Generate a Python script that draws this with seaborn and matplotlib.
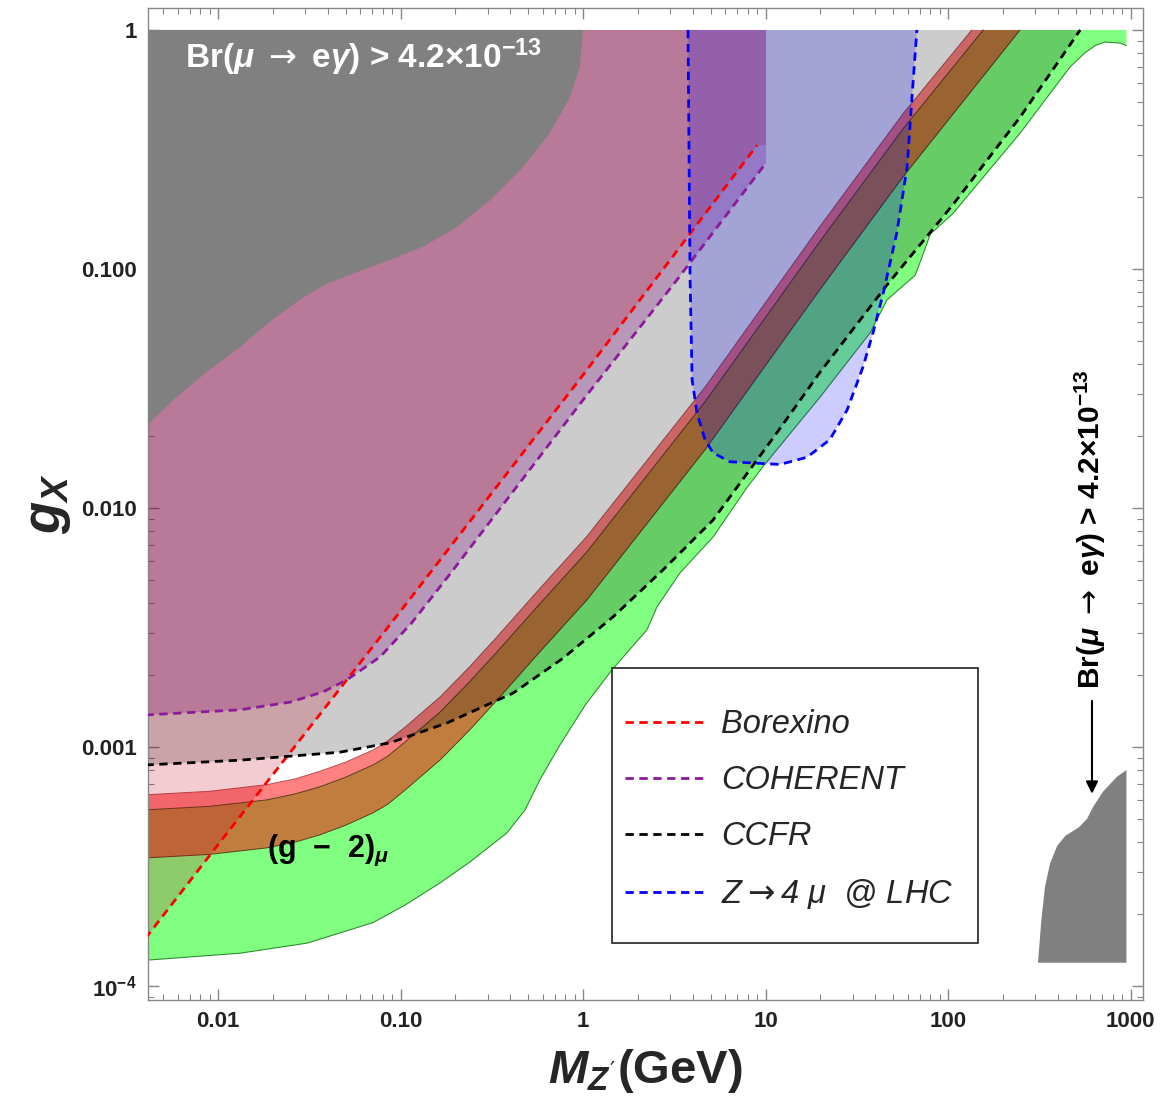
import numpy as np
import seaborn as sns
import matplotlib.pyplot as plt
import matplotlib.ticker as mticker
from matplotlib.patches import Rectangle

# ---- data (M_Z' in GeV, g_X) ----
# light green band, lower (wiggly) edge
green_lo_x = [0.004, 0.0132, 0.0308, 0.0707, 0.106, 0.165, 0.240, 0.383, 0.481, 0.581, 0.748,
              1.03, 1.44, 2.24, 2.54, 3.40, 5.16, 7.93, 9.69, 19.9, 37.4, 46.3, 66.0, 72.0, 80.0,
              106, 249, 466, 560, 640, 720, 877, 950]
green_lo_y = [1.28e-4, 1.37e-4, 1.51e-4, 1.84e-4, 2.18e-4, 2.70e-4, 3.30e-4, 4.37e-4, 5.45e-4,
              7.3e-4, 1.02e-3, 1.50e-3, 2.10e-3, 3.09e-3, 3.85e-3, 5.35e-3, 7.56e-3, 0.0122,
              0.0149, 0.0291, 0.054, 0.0742, 0.094, 0.112, 0.140, 0.170, 0.371, 0.700, 0.80,
              0.86, 0.89, 0.882, 0.86]
# (g-2) bands: green/brown edge, brown/red edge, red/top edge
band_x = [0.004, 0.009, 0.0185, 0.0265, 0.036, 0.05, 0.0707, 0.085, 0.106, 0.165, 0.24, 0.338,
          0.58, 1.05, 4.66, 19.8, 56.7]
brown_lo_y = [3.43e-4, 3.55e-4, 3.78e-4, 4.0e-4, 4.28e-4, 4.7e-4, 5.30e-4, 5.75e-4, 6.6e-4,
              8.83e-4, 1.18e-3, 1.57e-3, 2.50e-3, 4.12e-3, 0.0175, 0.0817, 0.243]
brown_hi_y = [5.45e-4, 5.64e-4, 6.0e-4, 6.36e-4, 6.8e-4, 7.47e-4, 8.4e-4, 9.14e-4, 1.05e-3,
              1.40e-3, 1.88e-3, 2.50e-3, 3.97e-3, 6.55e-3, 0.0278, 0.130, 0.386]
red_hi_y = [6.3e-4, 6.52e-4, 6.95e-4, 7.35e-4, 7.9e-4, 8.63e-4, 9.7e-4, 1.06e-3, 1.21e-3,
            1.62e-3, 2.17e-3, 2.89e-3, 4.6e-3, 7.6e-3, 0.032, 0.150, 0.446]
band_end_x = [248, 156, 135]   # where each edge reaches g_X = 1

# dashed limits
bor_x = [0.004, 0.01, 0.1, 1.0, 9.0]
bor_y = [1.58e-4, 3.9e-4, 3.7e-3, 0.036, 0.33]
coh_x = [0.004, 0.0132, 0.0249, 0.0377, 0.0509, 0.0772, 0.115, 0.187, 1.0, 3.27, 10.07]
coh_y = [1.36e-3, 1.43e-3, 1.54e-3, 1.70e-3, 1.91e-3, 2.38e-3, 3.3e-3, 5.3e-3, 0.0283, 0.090, 0.278]
ccfr_x = [0.004, 0.0132, 0.0465, 0.0875, 0.18, 0.414, 0.777, 1.46, 2.74, 5.16, 12.0, 19.9,
          46.3, 106, 249, 530]
ccfr_y = [8.4e-4, 8.8e-4, 9.5e-4, 1.04e-3, 1.26e-3, 1.68e-3, 2.35e-3, 3.5e-3, 5.5e-3, 8.9e-3,
          0.0215, 0.037, 0.0857, 0.185, 0.433, 1.0]
lhc_x = [3.76, 3.86, 3.96, 4.21, 4.66, 5.16, 6.38, 12.0, 16.9, 22.5, 28.0, 34.2, 38.8, 44.2,
         52.4, 59.7, 63.3, 67.5]
lhc_y = [1.0, 0.090, 0.0343, 0.0250, 0.0193, 0.0170, 0.0156, 0.0152, 0.0163, 0.0193, 0.0257,
         0.0389, 0.054, 0.0794, 0.1415, 0.267, 0.509, 1.0]

# Br(mu -> e gamma) regions
br1_x = [0.004, 0.00567, 0.00871, 0.0132, 0.0185, 0.0281, 0.0395, 0.0578, 0.0875, 0.133, 0.204,
         0.309, 0.469, 0.659, 0.849, 0.96, 1.0]
br1_y = [0.0218, 0.0283, 0.0372, 0.0470, 0.0588, 0.0745, 0.0868, 0.0971, 0.109, 0.124, 0.150,
         0.194, 0.267, 0.371, 0.525, 0.700, 1.0]
br2_x = [311, 325, 340, 362, 396, 440, 520, 578, 623, 707, 843, 950, 950]
br2_y = [1.25e-4, 1.9e-4, 2.6e-4, 3.24e-4, 3.85e-4, 4.25e-4, 4.6e-4, 5.0e-4, 5.6e-4, 6.5e-4,
         7.5e-4, 8.0e-4, 1.25e-4]

xticks = [0.01, 0.1, 1, 10, 100, 1000]
xtick_labels = ['0.01', '0.10', '1', '10', '100', '1000']
yticks = [1e-4, 1e-3, 1e-2, 0.1, 1]
ytick_labels = [r'$\mathbf{10^{-4}}$', '0.001', '0.010', '0.100', '1']

sns.set_style('ticks')
plt.rcParams['font.family'] = ['Liberation Sans', 'DejaVu Sans']
plt.rcParams['mathtext.fontset'] = 'custom'
plt.rcParams['mathtext.rm'] = 'DejaVu Sans'
plt.rcParams['mathtext.it'] = 'Liberation Sans:italic:bold'
plt.rcParams['mathtext.bf'] = 'Liberation Sans:bold'

fig, ax = plt.subplots(figsize=(11.67, 11.08), dpi=100)
fig.subplots_adjust(left=0.1268, right=0.9794, bottom=0.0975, top=0.9928)
ax.set_xscale('log')
ax.set_yscale('log')

# opaque bands
gx = green_lo_x + [950, band_end_x[0]] + band_x[::-1]
gy = green_lo_y + [1.0, 1.0] + brown_lo_y[::-1]
ax.fill(gx, gy, color='#80ff80', lw=0, zorder=1)
bx = band_x + [band_end_x[0], band_end_x[1]] + band_x[::-1]
by = brown_lo_y + [1.0, 1.0] + brown_hi_y[::-1]
ax.fill(bx, by, color='#c07d3e', lw=0, zorder=1)
rx = band_x + [band_end_x[1], band_end_x[2]] + band_x[::-1]
ry = brown_hi_y + [1.0, 1.0] + red_hi_y[::-1]
ax.fill(rx, ry, color='#ff8080', lw=0, zorder=1)

# thin band outlines
ax.plot(green_lo_x, green_lo_y, color='#2f8f2f', lw=0.8, zorder=1.5)
ax.plot(band_x + [band_end_x[0]], brown_lo_y + [1.0], color='#5a3a1a', lw=0.7, zorder=1.5)
ax.plot(band_x + [band_end_x[1]], brown_hi_y + [1.0], color='#5a3a1a', lw=0.7, zorder=1.5)
ax.plot(band_x + [band_end_x[2]], red_hi_y + [1.0], color='#b05050', lw=0.7, zorder=1.5)

# translucent exclusion regions
ax.fill(ccfr_x + [0.004], ccfr_y + [1.0], color='black', alpha=0.2, lw=0, zorder=2)
ax.fill(coh_x + [coh_x[-1], 0.004], coh_y + [1.0, 1.0], color=(0.5, 0, 0.5), alpha=0.25, lw=0, zorder=2)
ax.fill(bor_x + [coh_x[-1], coh_x[-1], 0.004], bor_y + [bor_y[-1], 1.0, 1.0],
        color=(0.75, 0, 0.1), alpha=0.2, lw=0, zorder=2)
ax.fill(lhc_x, lhc_y, color='blue', alpha=0.2, lw=0, zorder=2)

# Br(mu -> e gamma)
ax.fill(br1_x + [0.004], br1_y + [1.0], color='#808080', lw=0, zorder=3)
ax.fill(br2_x, br2_y, color='#808080', lw=0, zorder=3)

dash = (0, (3, 2))
sns.lineplot(x=bor_x, y=bor_y, color='red', lw=2, linestyle=dash, sort=False, estimator=None,
             label='Borexino', ax=ax, zorder=4)
sns.lineplot(x=coh_x, y=coh_y, color=(0.55, 0.1, 0.6), lw=2, linestyle=dash, sort=False,
             estimator=None, label='COHERENT', ax=ax, zorder=4)
sns.lineplot(x=ccfr_x, y=ccfr_y, color='black', lw=2, linestyle=dash, sort=False, estimator=None,
             label='CCFR', ax=ax, zorder=4)
sns.lineplot(x=lhc_x, y=lhc_y, color='blue', lw=2, linestyle=dash, sort=False, estimator=None,
             label=r'Z$\rightarrow$4 μ  @ LHC', ax=ax, zorder=4)

# annotations
br_label = r'Br($\mu$ $\rightarrow$ e$\gamma$) > 4.2×10$^{\mathbf{-13}}$'
ax.text(0.0066, 0.69, br_label, color='white', fontsize=24, fontweight='bold',
        va='baseline', zorder=5)
ax.text(0.0185, 3.47e-4, r'(g  −  2)$_{\mu}$', color='black', fontsize=22,
        fontweight='bold', va='baseline', zorder=5)
ax.text(600, 1.75e-3, br_label, color='black', fontsize=21.5, fontweight='bold',
        rotation=90, ha='center', va='bottom', zorder=5)
ax.annotate('', xy=(615, 6.2e-4), xytext=(615, 1.6e-3),
            arrowprops=dict(arrowstyle='-|>', color='black', lw=1.5, mutation_scale=18), zorder=5)

# legend with separate box
handles, labels = ax.get_legend_handles_labels()
leg = ax.legend(handles, labels, loc='upper left', bbox_to_anchor=(625 / 1167, 1 - 709 / 1108),
                bbox_transform=fig.transFigure, frameon=False, borderpad=0, borderaxespad=0,
                handlelength=2.4, handletextpad=0.55, labelspacing=0.77,
                prop={'style': 'italic', 'size': 23.5})
leg.set_zorder(11)
ax.add_patch(Rectangle((612 / 1167, 1 - 943 / 1108), 366 / 1167, 275 / 1108,
                       transform=fig.transFigure, facecolor='white', edgecolor='#333333',
                       lw=1.3, zorder=10))

ax.set_xlim(0.00413, 1170)
ax.set_ylim(8.73e-5, 1.236)
ax.set_xticks(xticks)
ax.set_xticklabels(xtick_labels, fontweight='bold', fontsize=16, color='#222222')
ax.set_yticks(yticks)
ax.set_yticklabels(ytick_labels, fontweight='bold', fontsize=16, color='#222222')
ax.xaxis.set_minor_locator(mticker.LogLocator(base=10, subs=np.arange(2, 10)))
ax.yaxis.set_minor_locator(mticker.LogLocator(base=10, subs=np.arange(2, 10)))
ax.xaxis.set_minor_formatter(mticker.NullFormatter())
ax.yaxis.set_minor_formatter(mticker.NullFormatter())
ax.tick_params(which='major', direction='in', length=8, width=1, color='#888888',
               top=True, right=True, pad=8)
ax.tick_params(which='minor', direction='in', length=4, width=0.8, color='#888888',
               top=True, right=True)
for s in ax.spines.values():
    s.set_color('#888888')
    s.set_linewidth(1)

ax.set_xlabel(r"$M_{Z'}$(GeV)", fontsize=34, fontweight='bold', labelpad=11)
ax.set_ylabel(r'$g_X$', fontsize=38, labelpad=6)

fig.savefig('out.png', dpi=100)
